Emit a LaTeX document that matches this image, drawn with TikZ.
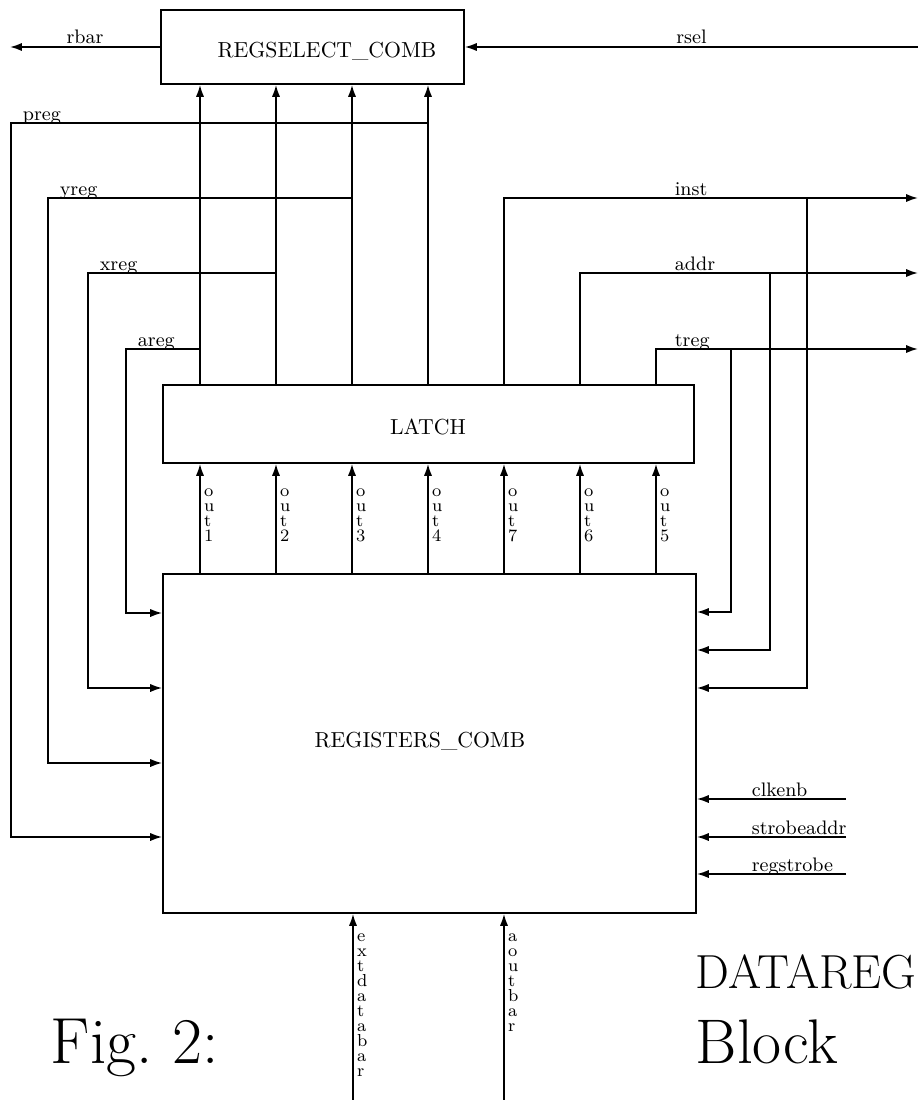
\documentclass[tikz,border=0pt]{standalone}
\usepackage{tikz}
\usetikzlibrary{arrows.meta,positioning}
\newcommand{\pxu}{0.46pt}

\begin{document}
\begin{tikzpicture}[x=\pxu,y=-\pxu,line width=0.8pt,>={Latex[length=5.5pt,width=3.8pt]},
  blk/.style={draw,line width=0.8pt,inner sep=0pt},
  sig/.style={font=\small,anchor=base west,inner sep=0pt},
  stk/.style={font={\fontsize{8}{6.9}\selectfont},align=left,anchor=north west,inner sep=0pt}]
\useasboundingbox (0,0) rectangle (918,1100);
% blocks
\node[blk,minimum width=303*\pxu,minimum height=74*\pxu] (regsel) at (312.5,47) {};
\node[blk,minimum width=531*\pxu,minimum height=78*\pxu] (latch) at (428.5,424) {};
\node[blk,minimum width=533*\pxu,minimum height=339*\pxu] (regs) at (429.5,743.5) {};
\node (regseltxt) at (327,51) {REGSELECT\_COMB};
\node (latchtxt) at (428,427) {LATCH};
\node (regstxt) at (420,741) {REGISTERS\_COMB};
% columns between the blocks
\foreach \x [count=\i] in {200,276,352,428,504,580,656} \coordinate (c\i) at (\x,0);
\foreach \i/\n in {1/1,2/2,3/3,4/4,5/7,6/6,7/5}
  \draw[->] (regs.north -| c\i) -- (latch.south -| c\i) node[stk,xshift=1.5pt,yshift=-11pt] {o\\u\\t\\\n};
\foreach \i in {1,...,4} \draw[->] (latch.north -| c\i) -- (regsel.south -| c\i);
% select signals
\coordinate (rbar) at (10,47);
\coordinate (rsel) at (918,47);
\draw[->] (regsel.west) -- (rbar) node[midway,above,font=\small,inner sep=1pt] {rbar};
\draw[->] (rsel) -- (regsel.east) node[midway,above,font=\small,inner sep=1pt] {rsel};
% left feedback
\foreach \n/\i/\x/\y/\e in {areg/1/126/349/613,xreg/2/88/273/688,yreg/3/48/198/763,preg/4/11/123/837}{
  \coordinate (\n) at (\x,\y);
  \coordinate (\n in) at (\x,\e);
  \draw[->] (\n -| c\i) -- (\n) -- (\n in) -- (\n in -| regs.west);
  \node[sig] at ([shift={(11,-3)}]\n) {\n};
}
% right outputs and feedback
\foreach \n/\x/\y/\t/\e in {inst/504/198/807/688,addr/580/273/770/650,treg/656/349/731/612}{
  \coordinate (\n) at (\x,\y);
  \coordinate (\n out) at (918,\y);
  \coordinate (\n tap) at (\t,\e);
  \draw[->] (latch.north -| \n) -- (\n) -- (\n out);
  \draw[->] (\n tap |- \n) -- (\n tap) -- (\n tap -| regs.east);
  \node[sig] at ([shift={(674-\x,-3)}]\n) {\n};
}
% right inputs
\foreach \n/\y in {clkenb/799,strobeaddr/837,regstrobe/874}{
  \coordinate (\n) at (846,\y);
  \draw[->] (\n) -- (\n -| regs.east);
  \node[sig] at ([shift={(-95,-3)}]\n) {\n};
}
% bottom inputs
\coordinate (extdatabar) at (353,1100);
\coordinate (aoutbar) at (504,1100);
\draw[->] (extdatabar) -- (extdatabar |- regs.south) node[stk,xshift=1.5pt,yshift=-8.7pt] {e\\x\\t\\d\\a\\t\\a\\b\\a\\r};
\draw[->] (aoutbar) -- (aoutbar |- regs.south) node[stk,xshift=1.5pt,yshift=-8.7pt] {a\\o\\u\\t\\b\\a\\r};
% caption
\node[anchor=base west,inner sep=0pt,font={\fontsize{30}{36}\selectfont}] (fig) at (50,1063) {Fig.\ 2:};
\node[anchor=base west,inner sep=0pt,font={\fontsize{22}{26}\selectfont}] (title) at (695,988) {DATAREG};
\node[anchor=base west,inner sep=0pt,font={\fontsize{29}{35}\selectfont}] (block) at (695,1063) {Block};
\end{tikzpicture}
\end{document}
